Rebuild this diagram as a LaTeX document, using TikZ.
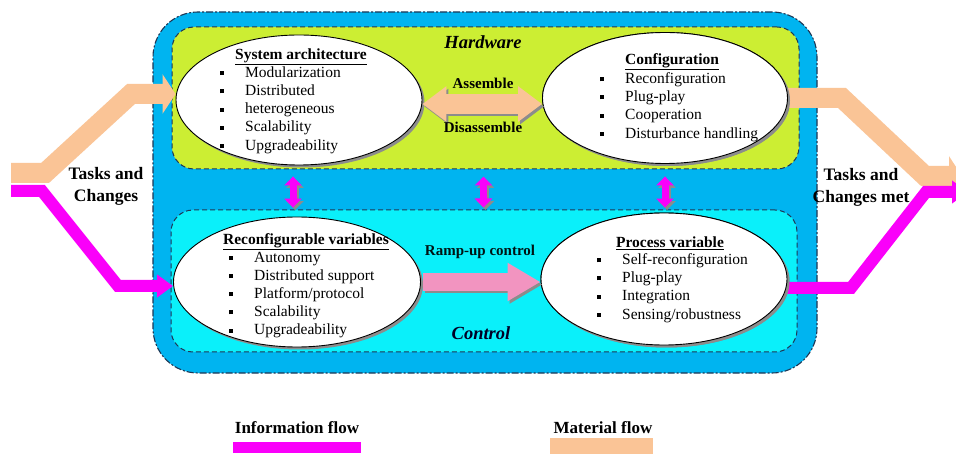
\documentclass[tikz,border=0pt]{standalone}
\usepackage{fontspec}
\setmainfont{Liberation Serif}
\usetikzlibrary{arrows.meta,shapes.geometric,calc,shadows}

\definecolor{frameblue}{RGB}{0,180,240}
\definecolor{hwgreen}{RGB}{204,238,51}
\definecolor{ctlcyan}{RGB}{10,240,250}
\definecolor{peach}{RGB}{250,196,150}
\definecolor{infomag}{RGB}{250,0,250}
\definecolor{ramppink}{RGB}{242,148,192}
\definecolor{edgeblue}{RGB}{30,55,85}
\definecolor{shadowgray}{RGB}{140,140,140}

\newcommand\sqbullet{\makebox[25pt][l]{\rule[2.2pt]{4pt}{4pt}}}

\tikzset{
  outerbox/.style={draw=edgeblue, line width=1.1pt,
    dash pattern=on 7pt off 2pt on 2pt off 2pt, rounded corners=45pt,
    fill=frameblue, inner sep=0pt},
  zonebox/.style={draw=edgeblue, line width=1pt, dash pattern=on 5pt off 3pt,
    rounded corners=22pt, inner sep=0pt},
  topic/.style={ellipse, draw=black, line width=0.9pt, fill=white, inner sep=0pt,
    drop shadow={shadow xshift=2.5pt, shadow yshift=-2.5pt, fill=shadowgray, opacity=1}},
  heading/.style={inner sep=0pt, font=\fontsize{15.5}{18}\selectfont\bfseries},
  itemlist/.style={align=left, inner sep=0pt, font=\fontsize{15.5}{18.2}\selectfont},
  zonetitle/.style={inner sep=0pt, font=\fontsize{18.5}{22}\selectfont\bfseries\itshape},
  flowlabel/.style={inner sep=0pt, font=\fontsize{15}{18}\selectfont\bfseries},
  sidelabel/.style={inner sep=0pt, align=center, font=\fontsize{17.5}{22}\selectfont\bfseries},
  keylabel/.style={inner sep=0pt, font=\fontsize{17}{20}\selectfont\bfseries},
  matflow/.style={draw=peach, line width=20pt, line join=miter,
    -{Triangle[width=39pt,length=13pt]}},
  infoflow/.style={draw=infomag, line width=12pt, line join=miter,
    -{Triangle[width=22pt,length=16pt]}},
  linkarrow/.style={line width=7pt,
    {Triangle[width=17pt,length=9pt]}-{Triangle[width=17pt,length=9pt]}},
  assemblearrow/.style={line width=20pt,
    {Triangle[width=34pt,length=24pt]}-{Triangle[width=34pt,length=24pt]}},
  ramparrow/.style={line width=18pt, -{Triangle[width=36pt,length=33pt]}},
  castshadow/.style={draw=shadowgray, transform canvas={xshift=2pt,yshift=-2.5pt}},
}

\begin{document}
\begin{tikzpicture}[x=1pt,y=-1pt]
\clip (0,0) rectangle (956,454);
\fill[white] (0,0) rectangle (956,454);

% frames
\node[outerbox, minimum width=664pt, minimum height=361pt] (outer) at (485,192.5) {};
\node[zonebox, fill=hwgreen, minimum width=627pt, minimum height=142pt] (hw) at (485.5,98) {};
\node[zonebox, fill=ctlcyan, minimum width=626pt, minimum height=142pt] (ctl) at (484,281) {};

% ellipses
\node[topic, minimum width=246pt, minimum height=130pt] (sa) at (299,100) {};
\node[topic, minimum width=245pt, minimum height=131pt] (cfg) at (665,98) {};
\node[topic, minimum width=247pt, minimum height=130pt] (rv) at (297,282) {};
\node[topic, minimum width=246pt, minimum height=132pt] (pv) at (664,279) {};

% flow endpoints at the page edges
\coordinate (matIn) at (11,173);
\coordinate (infoIn) at (11,191);
\coordinate (matOut) at (962,176);
\coordinate (infoOut) at (968,192);

% material and information flows
\draw[matflow] (matIn) -- (45,173) -- (131,94) -- ($(sa.west)+(0,-6)$);
\draw[infoflow] (infoIn) -- (42,191) -- (118,286) -- ($(rv.west)+(0,4)$);
\draw[matflow] (cfg.east) -- (842,98) -- (925,176) -- (matOut);
\draw[infoflow] ($(pv.east)+(0,9)$) -- (851,288) -- (926,192) -- (infoOut);

% redraw ellipses over the flow starts
\node[topic, minimum width=245pt, minimum height=131pt] at (cfg) {};
\node[topic, minimum width=246pt, minimum height=132pt] at (pv) {};

% assemble / disassemble
\draw[assemblearrow, castshadow, shadowgray]
  ($(sa.east)+(0,4)$) -- ($(cfg.west)+(0,6)$);
\draw[assemblearrow, peach] ($(sa.east)+(0,4)$) -- ($(cfg.west)+(0,6)$);

% ramp-up
\draw[ramparrow, castshadow, shadowgray]
  ($(rv.east)+(2,0)$) -- ($(pv.west)+(0,3)$);
\draw[ramparrow, ramppink] ($(rv.east)+(2,0)$) -- ($(pv.west)+(0,3)$);

% links between hardware and control
\draw[linkarrow, castshadow, shadowgray, shorten <=11pt, shorten >=9pt]
  ($(sa.south)+(-6,0)$) -- ($(sa.south |- rv.north)+(-6,0)$);
\draw[linkarrow, infomag, shorten <=11pt, shorten >=9pt]
  ($(sa.south)+(-6,0)$) -- ($(sa.south |- rv.north)+(-6,0)$);
\draw[linkarrow, castshadow, shadowgray, shorten <=7pt, shorten >=2pt]
  ($(hw.south)+(-2,0)$) -- ($(hw.south |- ctl.north)+(-2,0)$);
\draw[linkarrow, infomag, shorten <=7pt, shorten >=2pt]
  ($(hw.south)+(-2,0)$) -- ($(hw.south |- ctl.north)+(-2,0)$);
\draw[linkarrow, castshadow, shadowgray, shorten <=12.5pt, shorten >=5pt]
  (cfg.south) -- (cfg.south |- pv.north);
\draw[linkarrow, infomag, shorten <=12.5pt, shorten >=5pt]
  (cfg.south) -- (cfg.south |- pv.north);

% zone titles and flow labels
\node[zonetitle] (hwT) at (483,42) {Hardware};
\node[zonetitle, text=black!85!blue] (ctlT) at (481,333) {Control};
\node[flowlabel] (asmT) at (483,83) {Assemble};
\node[flowlabel] (disT) at (483,127) {Disassemble};
\node[flowlabel, text=black!85!teal] (rampT) at (480,252) {Ramp-up control};

% ellipse contents
\node[heading] (saT) at ($(sa)+(2,-43)$) {\underline{System architecture}};
\node[itemlist, anchor=west] (saL) at ($(sa)+(-79,10)$)
  {\sqbullet Modularization\\ \sqbullet Distributed\\ \sqbullet heterogeneous\\
   \sqbullet Scalability\\ \sqbullet Upgradeability};

\node[heading] (cfgT) at ($(cfg)+(7,-36)$) {\underline{Configuration}};
\node[itemlist, anchor=west] (cfgL) at ($(cfg)+(-65,9)$)
  {\sqbullet Reconfiguration\\ \sqbullet Plug-play\\ \sqbullet Cooperation\\
   \sqbullet Disturbance handling};

\node[heading] (rvT) at ($(rv)+(9,-40)$) {\underline{Reconfigurable variables}};
\node[itemlist, anchor=west] (rvL) at ($(rv)+(-68,13)$)
  {\sqbullet Autonomy\\ \sqbullet Distributed support\\ \sqbullet Platform/protocol\\
   \sqbullet Scalability\\ \sqbullet Upgradeability};

\node[heading] (pvT) at ($(pv)+(6,-36)$) {\underline{Process variable}};
\node[itemlist, anchor=west] (pvL) at ($(pv)+(-67,9)$)
  {\sqbullet Self-reconfiguration\\ \sqbullet Plug-play\\ \sqbullet Integration\\
   \sqbullet Sensing/robustness};

% side labels
\node[sidelabel] (inT) at (106,186) {Tasks and\\Changes};
\node[sidelabel] (outT) at (861,187) {Tasks and\\Changes met};

% legend
\node[keylabel] (infoKey) at (297,428) {Information flow};
\node[fill=infomag, minimum width=128pt, minimum height=11pt, inner sep=0pt] (infoBar) at (297,447.5) {};
\node[keylabel] (matKey) at (603,428) {Material flow};
\node[fill=peach, minimum width=103pt, minimum height=16pt, inner sep=0pt] (matBar) at (601.5,446) {};
\end{tikzpicture}
\end{document}
